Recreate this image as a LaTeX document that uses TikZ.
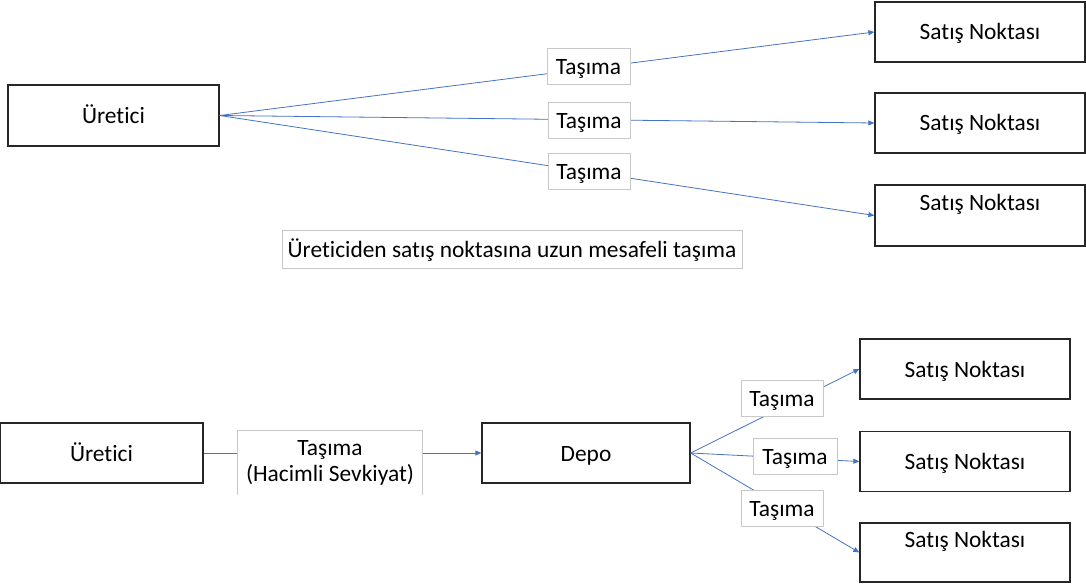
\documentclass[tikz,border=0pt]{standalone}
\usepackage{fontspec}
\setmainfont[Ligatures=NoCommon]{Carlito}
\usetikzlibrary{arrows.meta}
\definecolor{linkblue}{HTML}{4472C4}
\definecolor{softgrey}{HTML}{C8C8C8}
\tikzset{
  x=1pt, y=-1pt,
  txt/.style={font=\fontsize{23.4}{27}\selectfont},
  line/.style={text height=17pt, text depth=1pt},
  box/.style={txt, draw=black!85, line width=1.3pt, fill=white, minimum width=210pt, minimum height=60pt, inner sep=0pt},
  tag/.style={txt, line, draw=softgrey, line width=1pt, fill=white, minimum width=82pt, minimum height=36pt, inner sep=0pt},
  conn/.style={draw=linkblue, line width=0.8pt, -{Triangle[length=6pt,width=5pt]}}
}
\begin{document}
\begin{tikzpicture}
\useasboundingbox (0,0) rectangle (1086,588);

% direct long-distance shipping
\node[box, line, minimum width=211pt, minimum height=61pt] (u1) at (113.5,115.5) {Üretici};
\node[box, line] (s1) at (980,32) {Satış Noktası};
\node[box, line] (s2) at (980,123) {Satış Noktası};
\node[box, minimum height=61pt, align=center] (s3) at (980,215.5) {Satış Noktası\\\mbox{}};

\draw[conn] (u1.east) -- (s1.west);
\draw[conn] (u1.east) -- (s2.west);
\draw[conn] (u1.east) -- (s3.west);

\node[tag, minimum width=83pt] (t1) at (588.5,67) {Taşıma};
\node[tag] (t2) at (589,120.5) {Taşıma};
\node[tag] (t3) at (589,172) {Taşıma};

\node[tag, minimum width=460pt, minimum height=38pt] (cap) at (512,249) {Üreticiden satış noktasına uzun mesafeli taşıma};

% shipping through a warehouse
\node[box, line, minimum width=203pt] (u2) at (101.5,453) {Üretici};
\node[box, line, minimum width=208pt] (d) at (586,453) {Depo};
\node[box, line] (b1) at (965,369) {Satış Noktası};
\node[box, line] (b2) at (965,461.5) {Satış Noktası};
\node[box, minimum height=59pt, align=center] (b3) at (965,552.5) {Satış Noktası\\\mbox{}};

\draw[conn] (u2.east) -- (d.west);
\node[txt, fill=white, minimum width=184pt, minimum height=64pt, inner sep=0pt, align=center, font=\fontsize{23.4}{26}\selectfont] (h) at (330,463) {Taşıma\\(Hacimli Sevkiyat)};
\draw[softgrey, line width=1pt] (h.south west) -- (h.north west) -- (h.north east) -- (h.south east);

\draw[conn] (d.east) -- (b1.west);
\draw[conn] (d.east) -- (b2.west);
\draw[conn] (d.east) -- (b3.west);

\node[tag] (c1) at (782,398) {Taşıma};
\node[tag, minimum width=84pt] (c2) at (795,456) {Taşıma};
\node[tag] (c3) at (782,508) {Taşıma};
\end{tikzpicture}
\end{document}
